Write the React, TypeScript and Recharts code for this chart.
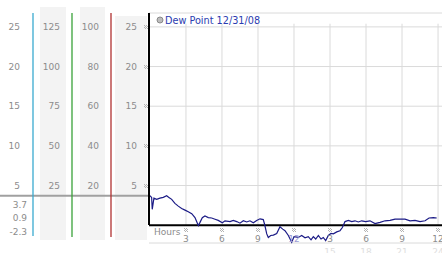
import React from 'react';
import { LineChart, Line, XAxis, YAxis, CartesianGrid, ReferenceLine, Legend } from 'recharts';

// ---------- data ----------
const seriesName = 'Dew Point 12/31/08';
const hours = [0, 0.14, 0.19, 0.33, 0.56, 0.83, 1.11, 1.39, 1.58, 1.81, 2.08, 2.36, 2.64, 2.92, 3.19, 3.48, 3.75, 4.03, 4.17, 4.36, 4.58, 4.86, 5.14, 5.42, 5.69, 6.03, 6.25, 6.67, 6.94, 7.23, 7.5, 7.78, 8.06, 8.33, 8.61, 8.89, 9.17, 9.44, 9.56, 9.73, 9.86, 10.06, 10.28, 10.56, 10.83, 11.06, 11.25, 11.53, 11.81, 12.0, 12.36, 12.64, 12.92, 13.19, 13.42, 13.61, 13.81, 14.03, 14.25, 14.44, 14.64, 14.86, 15.08, 15.28, 15.56, 15.83, 16.03, 16.25, 16.53, 16.81, 17.08, 17.36, 17.64, 17.97, 18.33, 18.75, 19.17, 19.58, 20.0, 20.42, 20.83, 21.25, 21.67, 22.08, 22.5, 22.92, 23.25, 23.61, 23.89];
const dewPoint = [3.7, 3.5, 2.0, 3.4, 3.25, 3.4, 3.5, 3.7, 3.5, 3.25, 2.75, 2.4, 2.1, 1.9, 1.7, 1.45, 0.95, -0.05, 0.35, 0.95, 1.15, 0.95, 0.9, 0.75, 0.6, 0.3, 0.55, 0.45, 0.6, 0.45, 0.25, 0.55, 0.4, 0.55, 0.3, 0.6, 0.8, 0.7, 0.05, -1.1, -1.55, -1.3, -1.25, -1.05, -0.2, -0.5, -0.7, -1.3, -2.15, -1.45, -1.55, -1.3, -1.6, -1.45, -1.85, -1.45, -1.75, -1.3, -1.75, -1.55, -1.95, -1.3, -1.05, -1.1, -0.85, -0.7, -0.3, 0.45, 0.6, 0.45, 0.55, 0.4, 0.55, 0.45, 0.55, 0.2, 0.35, 0.55, 0.6, 0.75, 0.75, 0.75, 0.55, 0.6, 0.45, 0.55, 0.9, 0.95, 0.9];

const xTicks = [3, 6, 9, 12, 15, 18, 21, 24];
const xTickLabels = ['3', '6', '9', '12', '3', '6', '9', '12'];
const xTickSubLabels = ['', '', '', '', '15', '18', '21', '24'];

const col1Ticks = [5, 10, 15, 20, 25];
const col2Ticks = [25, 50, 75, 100, 125];
const col3Ticks = [20, 40, 60, 80, 100];
const col4Ticks = [5, 10, 15, 20, 25];
const statLabels = ['3.7', '0.9', '-2.3'];
const currentValue = 3.7;

const chartData = hours.map((h, i) => ({ h, dew: dewPoint[i] }));

// ---------- styling ----------
const FONT = '"DejaVu Sans", Verdana, sans-serif';
const TICK_COLOR = '#8c8c8c';
const mainDomain: [number, number] = [-2.25, 26.75];
const col2Domain: [number, number] = [mainDomain[0] * 5, mainDomain[1] * 5];
const col3Domain: [number, number] = [mainDomain[0] * 4, mainDomain[1] * 4];
const xDomain: [number, number] = [-0.08, 24.33];

// small hatched tick marker (checker glyph)
const MARK_CELLS = [[0, 0], [2, 0], [1, 1], [3, 1], [0, 2], [2, 2], [1, 3], [3, 3]];
const Mark = ({ x, y }: { x: number; y: number }) => (
  <g transform={`translate(${Math.round(x) - 2},${Math.round(y) - 2})`}>
    {MARK_CELLS.map(([cx, cy], i) => (
      <rect key={i} x={cx} y={cy} width={1} height={1} fill="#b4b4b4" />
    ))}
  </g>
);

const makeYTick = (withMark: boolean) => (props: any) => {
  const { x, y, payload } = props;
  return (
    <g>
      <text x={x} y={y} dy="0.35em" textAnchor="end" fontSize={9} fill={TICK_COLOR} fontFamily={FONT}>
        {payload.value}
      </text>
      {withMark && <Mark x={x + 9} y={y} />}
    </g>
  );
};

const XTick = (props: any) => {
  const { x, y, payload } = props;
  const i = xTicks.indexOf(payload.value);
  return (
    <g>
      <Mark x={x} y={y - 13} />
      <text x={x} y={y - 1} textAnchor="middle" fontSize={9} fill={payload.value === 12 ? '#9c9cd4' : TICK_COLOR} fontFamily={FONT}>
        {xTickLabels[i]}
      </text>
      {xTickSubLabels[i] ? (
        <text x={x} y={y + 11.5} textAnchor="middle" fontSize={9} fill="#dedede" fontFamily={FONT}>
          {xTickSubLabels[i]}
        </text>
      ) : null}
    </g>
  );
};

const HoursLabel = (props: any) => {
  const vb = props.viewBox || {};
  return (
    <text x={(vb.x ?? 149) + 5} y={(vb.y ?? 243) - 8} fontSize={9} fill={TICK_COLOR} fontFamily={FONT}>
      Hours
    </text>
  );
};

const StatsLabel = (props: any) => {
  const vb = props.viewBox || {};
  const right = (vb.x ?? 0) + (vb.width ?? 33) - 6;
  const bottom = (vb.y ?? 13) + (vb.height ?? 230);
  const offsets = [-35.5, -22, -8];
  return (
    <g>
      {statLabels.map((s, i) => (
        <text key={i} x={right} y={bottom + offsets[i]} textAnchor="end" fontSize={9} fill={TICK_COLOR} fontFamily={FONT}>
          {s}
        </text>
      ))}
    </g>
  );
};

const renderLegend = (props: any) => {
  const item = props.payload && props.payload[0];
  return (
    <svg width={130} height={16} style={{ display: 'block' }}>
      <circle cx={5} cy={8} r={3} fill="#bdbdbd" stroke="#8a8a8a" strokeWidth={1} />
      <text x={10} y={12} fontSize={9.7} fill="#2a3cb0" fontFamily={FONT}>
        {item ? item.value : seriesName}
      </text>
    </svg>
  );
};

const bgCols = [
  { left: 40, top: 7, width: 26, height: 233 },
  { left: 80, top: 7, width: 25, height: 233 },
  { left: 115, top: 16, width: 32, height: 224 },
];

// axis ids: sorted order places "y0" nearest to the plot
const MAIN = 'y0';

export default function App() {
  return (
    <div style={{ position: 'absolute', left: 0, top: 0, width: 442, height: 253, overflow: 'hidden', background: '#fff' }}>
      {bgCols.map((c, i) => (
        <div key={i} style={{ position: 'absolute', left: c.left, top: c.top, width: c.width, height: c.height, background: '#f3f3f3' }} />
      ))}
      <LineChart
        width={442}
        height={253}
        data={chartData}
        margin={{ top: 13, right: 0, bottom: 0, left: 0 }}
        style={{ position: 'absolute', left: 0, top: 0 }}
      >
        <CartesianGrid yAxisId={MAIN} vertical={false} stroke="#dadada" />
        <XAxis
          dataKey="h"
          type="number"
          domain={xDomain}
          allowDataOverflow
          ticks={xTicks}
          interval={0}
          height={10}
          axisLine={false}
          tickLine={false}
          tickSize={0}
          tickMargin={0}
          tick={XTick}
          label={HoursLabel}
        />
        <YAxis
          yAxisId={MAIN}
          type="number"
          domain={mainDomain}
          ticks={col4Ticks}
          interval={0}
          width={38}
          tickLine={false}
          tickSize={0}
          tickMargin={12}
          tick={makeYTick(true)}
          axisLine={{ stroke: '#000', strokeWidth: 2, strokeDasharray: '212 1000' }}
        />
        <YAxis
          yAxisId="y1"
          type="number"
          domain={col3Domain}
          allowDataOverflow
          ticks={col3Ticks}
          interval={0}
          width={39}
          tickLine={false}
          tickSize={0}
          tickMargin={12}
          tick={makeYTick(false)}
          axisLine={{ stroke: '#b03030', strokeWidth: 1.3, strokeDasharray: '224 1000' }}
        />
        <YAxis
          yAxisId="y2"
          type="number"
          domain={col2Domain}
          allowDataOverflow
          ticks={col2Ticks}
          interval={0}
          width={39}
          tickLine={false}
          tickSize={0}
          tickMargin={12}
          tick={makeYTick(false)}
          axisLine={{ stroke: '#3aa23a', strokeWidth: 1.3, strokeDasharray: '224 1000' }}
        />
        <YAxis
          yAxisId="y3"
          type="number"
          domain={mainDomain}
          allowDataOverflow
          ticks={col1Ticks}
          interval={0}
          width={33}
          tickLine={false}
          tickSize={0}
          tickMargin={13}
          tick={makeYTick(false)}
          axisLine={{ stroke: '#3aaad0', strokeWidth: 1.3, strokeDasharray: '223 1000' }}
          label={StatsLabel}
        />
        {xTicks.map((h) => (
          <ReferenceLine
            key={h}
            yAxisId={MAIN}
            segment={[{ x: h, y: 0 }, { x: h, y: 25.4 }]}
            stroke="#dadada"
            ifOverflow="visible"
          />
        ))}
        <ReferenceLine
          yAxisId={MAIN}
          segment={[{ x: -12.6, y: currentValue }, { x: xDomain[0], y: currentValue }]}
          stroke="#a0a0a0"
          strokeWidth={2}
          ifOverflow="visible"
        />
        <ReferenceLine yAxisId={MAIN} y={0} stroke="#000" strokeWidth={2} />
        <Legend
          verticalAlign="middle"
          layout="horizontal"
          content={renderLegend}
          wrapperStyle={{ position: 'absolute', left: 155, top: 12, width: 130, height: 16 }}
        />
        <Line
          yAxisId={MAIN}
          dataKey="dew"
          name={seriesName}
          type="linear"
          stroke="#1b1b86"
          strokeWidth={1.2}
          dot={false}
          isAnimationActive={false}
        />
      </LineChart>
    </div>
  );
}
